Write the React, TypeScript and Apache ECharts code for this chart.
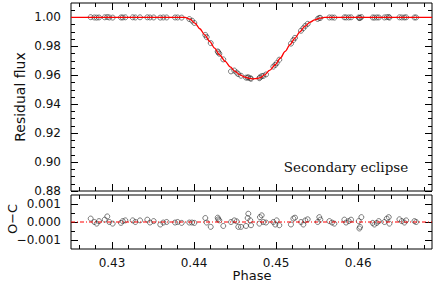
import React, { useEffect, useRef } from "react";
import * as echarts from "echarts";

// ---- data ----
const xMin = 0.425;
const xMax = 0.469;

const modelPhase = [0.425, 0.4389, 0.4395, 0.4401, 0.4407, 0.4413, 0.4419, 0.4425, 0.4431, 0.4438, 0.4444, 0.445, 0.4456, 0.4462, 0.4467, 0.4472, 0.4477, 0.448, 0.4486, 0.4492, 0.4499, 0.4505, 0.4511, 0.4517, 0.4523, 0.4529, 0.4535, 0.4541, 0.4547, 0.4553, 0.4559, 0.469];
const modelFlux = [1.0, 1.0, 0.9988, 0.9961, 0.9922, 0.988, 0.9834, 0.9788, 0.9742, 0.9696, 0.9658, 0.9627, 0.9603, 0.9588, 0.9579, 0.9576, 0.9578, 0.9582, 0.9603, 0.9634, 0.9673, 0.9718, 0.9765, 0.9812, 0.9857, 0.99, 0.9938, 0.9966, 0.9983, 0.9995, 1.0, 1.0];

const obsPhase = [0.4274, 0.42784, 0.42813, 0.42841, 0.42911, 0.42942, 0.42967, 0.43008, 0.43109, 0.4313, 0.43162, 0.43252, 0.43284, 0.43341, 0.4343, 0.43463, 0.43508, 0.43588, 0.43625, 0.43666, 0.43768, 0.438, 0.43849, 0.43942, 0.43975, 0.44003, 0.44137, 0.44154, 0.44203, 0.44288, 0.44295, 0.44308, 0.44356, 0.4445, 0.4449, 0.44519, 0.44539, 0.44572, 0.44633, 0.44653, 0.44661, 0.44685, 0.44694, 0.44796, 0.44803, 0.44824, 0.44844, 0.44877, 0.44966, 0.4499, 0.45007, 0.45039, 0.45181, 0.4521, 0.4523, 0.45303, 0.45332, 0.45356, 0.45385, 0.45507, 0.45526, 0.45539, 0.45649, 0.45681, 0.4571, 0.45832, 0.45853, 0.45885, 0.45913, 0.46007, 0.46015, 0.46023, 0.46039, 0.46177, 0.46198, 0.46227, 0.46251, 0.4632, 0.46349, 0.46373, 0.46381, 0.46503, 0.46532, 0.46564, 0.46585, 0.46686, 0.46706];
const obsFlux = [1.0002, 1.0, 0.9999, 1.0, 1.0001, 1.0003, 1.0, 0.9999, 1.0, 1.0, 1.0001, 1.0001, 1.0, 1.0001, 1.0001, 1.0, 1.0, 0.9999, 1.0, 1.0, 1.0, 1.0, 0.9999, 0.9989, 0.9978, 0.9962, 0.9879, 0.9864, 0.9823, 0.9765, 0.9759, 0.9749, 0.971, 0.9627, 0.9633, 0.9619, 0.9608, 0.9597, 0.9584, 0.9584, 0.9586, 0.958, 0.9576, 0.958, 0.9586, 0.9594, 0.9596, 0.9606, 0.966, 0.9672, 0.9684, 0.9708, 0.9819, 0.9844, 0.9859, 0.9908, 0.9926, 0.9942, 0.9956, 0.999, 0.9997, 0.9997, 1.0, 1.0, 0.9999, 1.0001, 1.0, 1.0, 1.0001, 1.0, 0.9996, 0.9997, 1.0003, 1.0, 0.9999, 1.0, 1.0, 1.0, 1.0002, 1.0003, 0.9999, 1.0001, 1.0, 1.0, 1.0001, 1.0, 1.0];
const obsResidual = [0.00019, 0.0, -0.00009, 0.00005, 0.00013, 0.00031, 0.0, -0.00009, -0.00005, 0.00005, 0.00009, 0.00009, 0.0, 0.00009, 0.00013, -0.00003, 0.00005, -0.00014, -0.00003, 0.0, -0.00003, 0.0, -0.00005, -0.00003, -0.00003, -0.00005, 0.00022, -0.00003, -0.00027, 0.00024, 0.00015, 0.00009, -0.00022, 0.0, 0.00009, 0.00004, -0.00027, -0.00027, -0.00022, 0.00022, 0.00046, 0.00009, -0.00018, -0.00009, 0.00027, 0.00037, 0.0, -0.00003, 0.0, -0.00014, 0.00009, -0.00018, -0.00014, 0.00019, 0.00024, 0.0, -0.00014, 0.00009, 0.00015, 0.0, 0.00027, 0.00013, 0.00005, -0.00003, -0.00009, 0.00013, -0.00003, 0.00005, 0.00013, 0.00005, -0.00036, -0.00027, 0.00027, -0.00005, -0.00014, -0.00005, 0.00005, 0.0, 0.00019, 0.00027, -0.00009, 0.00015, 0.00005, -0.00003, 0.00009, 0.00005, 0.0];

const xMajorTicks = [0.43, 0.44, 0.45, 0.46];
const xMinorTicks = [0.426, 0.428, 0.432, 0.434, 0.436, 0.438, 0.442, 0.444, 0.446, 0.448, 0.452, 0.454, 0.456, 0.458, 0.462, 0.464, 0.466, 0.468];
const fluxMin = 0.88;
const fluxMax = 1.01;
const fluxMajorTicks = [0.88, 0.9, 0.92, 0.94, 0.96, 0.98, 1.0];
const fluxMinorTicks = [0.885, 0.89, 0.895, 0.905, 0.91, 0.915, 0.925, 0.93, 0.935, 0.945, 0.95, 0.955, 0.965, 0.97, 0.975, 0.985, 0.99, 0.995, 1.005];
const resMin = -0.0015;
const resMax = 0.0015;
const resMajorTicks = [-0.001, 0, 0.001];
const resMinorTicks = [-0.0005, 0.0005];

const FONT = "DejaVu Sans";
const MAJ = 7;
const MIN = 4;

function axis(
  kind: "x" | "y",
  gridIndex: number,
  position: string,
  min: number,
  max: number,
  ticks: number[],
  len: number,
  labels: number[] | null,
  fmt?: (v: number) => string
) {
  return {
    type: "value",
    gridIndex,
    position,
    min,
    max,
    axisLine: { show: false, onZero: false },
    splitLine: { show: false },
    axisTick: {
      show: true,
      inside: true,
      length: len,
      customValues: ticks,
      lineStyle: { color: "#000", width: 1 },
    },
    axisLabel: labels
      ? {
          show: true,
          customValues: labels,
          formatter: fmt,
          fontFamily: FONT,
          fontSize: 12,
          color: "#111",
          margin: kind === "x" ? 8 : 10,
        }
      : { show: false },
  };
}

const fmtFlux = (v: number) => v.toFixed(2);
const fmtX = (v: number) => v.toFixed(2);
const fmtRes = (v: number) =>
  Math.abs(v) < 1e-9 ? "0.000" : (v < 0 ? "\u2212" : "") + Math.abs(v).toFixed(3);

export default function App() {
  const ref = useRef<HTMLDivElement>(null);
  useEffect(() => {
    if (!ref.current) return;
    const chart = echarts.init(ref.current, null, { renderer: "svg" });
    const circle = {
      color: "rgba(0,0,0,0)",
      borderColor: "#333",
      borderWidth: 0.8,
    };
    const option = {
      animation: false,
      backgroundColor: "#fff",
      grid: [
        { left: 71, top: 3, width: 361, height: 188, show: true, borderColor: "#000", borderWidth: 1, backgroundColor: "transparent" },
        { left: 71, top: 195, width: 361, height: 54, show: true, borderColor: "#000", borderWidth: 1, backgroundColor: "transparent" },
      ],
      xAxis: [
        axis("x", 0, "bottom", xMin, xMax, xMajorTicks, MAJ, null),
        axis("x", 0, "bottom", xMin, xMax, xMinorTicks, MIN, null),
        axis("x", 0, "top", xMin, xMax, xMajorTicks, MAJ, null),
        axis("x", 0, "top", xMin, xMax, xMinorTicks, MIN, null),
        axis("x", 1, "bottom", xMin, xMax, xMajorTicks, MAJ, xMajorTicks, fmtX),
        axis("x", 1, "bottom", xMin, xMax, xMinorTicks, MIN, null),
        axis("x", 1, "top", xMin, xMax, xMajorTicks, MAJ, null),
        axis("x", 1, "top", xMin, xMax, xMinorTicks, MIN, null),
      ],
      yAxis: [
        axis("y", 0, "left", fluxMin, fluxMax, fluxMajorTicks, MAJ, fluxMajorTicks, fmtFlux),
        axis("y", 0, "left", fluxMin, fluxMax, fluxMinorTicks, MIN, null),
        axis("y", 0, "right", fluxMin, fluxMax, fluxMajorTicks, MAJ, null),
        axis("y", 0, "right", fluxMin, fluxMax, fluxMinorTicks, MIN, null),
        axis("y", 1, "left", resMin, resMax, resMajorTicks, MAJ, resMajorTicks, fmtRes),
        axis("y", 1, "left", resMin, resMax, resMinorTicks, MIN, null),
        axis("y", 1, "right", resMin, resMax, resMajorTicks, MAJ, null),
        axis("y", 1, "right", resMin, resMax, resMinorTicks, MIN, null),
      ],
      series: [
        {
          type: "scatter",
          xAxisIndex: 0,
          yAxisIndex: 0,
          symbol: "circle",
          symbolSize: 5,
          itemStyle: circle,
          data: obsPhase.map((p, i) => [p, obsFlux[i]]),
          z: 2,
        },
        {
          type: "line",
          xAxisIndex: 0,
          yAxisIndex: 0,
          showSymbol: false,
          symbol: "none",
          smooth: 0.3,
          smoothMonotone: "x",
          lineStyle: { color: "#ff0000", width: 1.3 },
          data: modelPhase.map((p, i) => [p, modelFlux[i]]),
          z: 3,
        },
        {
          type: "scatter",
          xAxisIndex: 4,
          yAxisIndex: 4,
          symbol: "circle",
          symbolSize: 5,
          itemStyle: circle,
          data: obsPhase.map((p, i) => [p, obsResidual[i]]),
          z: 2,
        },
        {
          type: "line",
          xAxisIndex: 4,
          yAxisIndex: 4,
          showSymbol: false,
          symbol: "none",
          lineStyle: { color: "#ff0000", width: 1.2, type: [4, 2, 1, 2] },
          data: [
            [xMin, 0],
            [xMax, 0],
          ],
          z: 3,
        },
      ],
      graphic: [
        {
          type: "text",
          x: 20,
          y: 97,
          rotation: Math.PI / 2,
          style: { text: "Residual flux", font: `14px ${FONT}`, fill: "#111", align: "center", verticalAlign: "middle" },
        },
        {
          type: "text",
          x: 12,
          y: 219,
          rotation: Math.PI / 2,
          style: { text: "O\u2212C", font: `13px ${FONT}`, fill: "#111", align: "center", verticalAlign: "middle" },
        },
        {
          type: "text",
          x: 252,
          y: 275,
          style: { text: "Phase", font: `13px ${FONT}`, fill: "#111", align: "center", verticalAlign: "middle" },
        },
        {
          type: "text",
          x: 346,
          y: 167,
          style: { text: "Secondary eclipse", font: `13.5px DejaVu Serif`, fill: "#111", align: "center", verticalAlign: "middle" },
        },
      ],
    };
    chart.setOption(option as any);
    return () => chart.dispose();
  }, []);
  return (
    <div
      ref={ref}
      style={{ position: "fixed", left: 0, top: 0, width: 436, height: 282, background: "#fff" }}
    />
  );
}
